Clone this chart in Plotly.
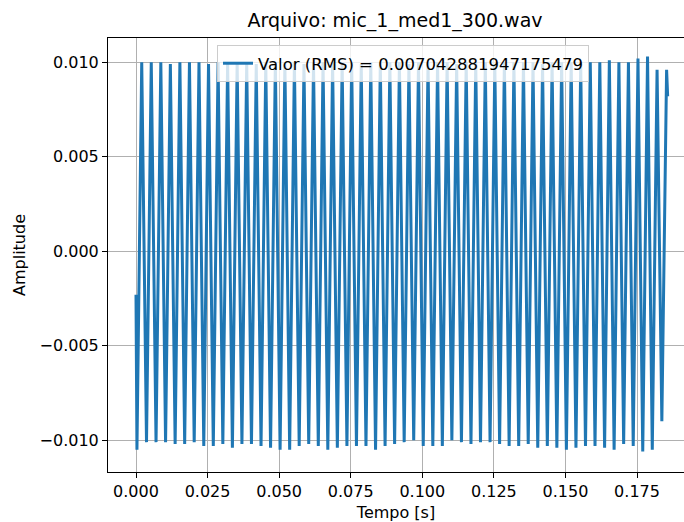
import plotly.graph_objects as go

# ---- data ----
start_t, start_v = 0.0, -0.0023
end_t, end_v = 0.1857, 0.0082

trough_t = [0.00033, 0.00367, 0.00700, 0.01033, 0.01367, 0.01700, 0.02033, 0.02367, 0.02700,
            0.03033, 0.03367, 0.03700, 0.04033, 0.04367, 0.04700, 0.05033, 0.05367, 0.05700,
            0.06033, 0.06367, 0.06700, 0.07033, 0.07367, 0.07700, 0.08033, 0.08367, 0.08700,
            0.09033, 0.09367, 0.09700, 0.10033, 0.10367, 0.10700, 0.11033, 0.11367, 0.11700,
            0.12033, 0.12367, 0.12700, 0.13033, 0.13367, 0.13700, 0.14033, 0.14367, 0.14700,
            0.15033, 0.15367, 0.15700, 0.16033, 0.16367, 0.16700, 0.17033, 0.17367, 0.17700,
            0.18033, 0.18367]
trough_v = [-0.0105, -0.0101, -0.0101, -0.0101, -0.0102, -0.0102, -0.0101, -0.0103, -0.0103, -0.0102,
            -0.0104, -0.0102, -0.0102, -0.0103, -0.0104, -0.0105, -0.0105, -0.0103, -0.0102, -0.0103,
            -0.0105, -0.0104, -0.0103, -0.0103, -0.0103, -0.0105, -0.0103, -0.0102, -0.0101, -0.0100,
            -0.0103, -0.0103, -0.0103, -0.0100, -0.0101, -0.0102, -0.0101, -0.0101, -0.0102, -0.0103,
            -0.0103, -0.0102, -0.0104, -0.0103, -0.0104, -0.0105, -0.0104, -0.0103, -0.0103, -0.0104,
            -0.0105, -0.0102, -0.0103, -0.0106, -0.0105, -0.0090]

peak_t = [0.00200, 0.00533, 0.00867, 0.01200, 0.01533, 0.01867, 0.02200, 0.02533, 0.02867,
          0.03200, 0.03533, 0.03867, 0.04200, 0.04533, 0.04867, 0.05200, 0.05533, 0.05867,
          0.06200, 0.06533, 0.06867, 0.07200, 0.07533, 0.07867, 0.08200, 0.08533, 0.08867,
          0.09200, 0.09533, 0.09867, 0.10200, 0.10533, 0.10867, 0.11200, 0.11533, 0.11867,
          0.12200, 0.12533, 0.12867, 0.13200, 0.13533, 0.13867, 0.14200, 0.14533, 0.14867,
          0.15200, 0.15533, 0.15867, 0.16200, 0.16533, 0.16867, 0.17200, 0.17533, 0.17867,
          0.18200, 0.18533]
peak_v = [0.0100, 0.0100, 0.0100, 0.0099, 0.0100, 0.0100, 0.0100, 0.0099, 0.0100, 0.0100,
          0.0100, 0.0100, 0.0099, 0.0100, 0.0100, 0.0100, 0.0100, 0.0099, 0.0100, 0.0100,
          0.0100, 0.0100, 0.0100, 0.0099, 0.0100, 0.0100, 0.0100, 0.0100, 0.0099, 0.0100,
          0.0100, 0.0100, 0.0100, 0.0099, 0.0100, 0.0100, 0.0100, 0.0099, 0.0100, 0.0100,
          0.0100, 0.0100, 0.0099, 0.0100, 0.0100, 0.0100, 0.0099, 0.0100, 0.0100, 0.0101,
          0.0100, 0.0100, 0.0102, 0.0103, 0.0096, 0.0096]

x_ticks = [0.000, 0.025, 0.050, 0.075, 0.100, 0.125, 0.150, 0.175]
x_ticklabels = ["0.000", "0.025", "0.050", "0.075", "0.100", "0.125", "0.150", "0.175"]
y_ticks = [-0.010, -0.005, 0.000, 0.005, 0.010]
y_ticklabels = ["\u22120.010", "\u22120.005", "0.000", "0.005", "0.010"]

title_text = "Arquivo: mic_1_med1_300.wav"
legend_text = "Valor (RMS) = 0.007042881947175479"
x_label = "Tempo [s]"
y_label = "Amplitude"

# ---- assemble the waveform (start, alternating troughs/peaks, end) ----
pts = [(start_t, start_v)]
for i in range(len(trough_t)):
    pts.append((trough_t[i], trough_v[i]))
    pts.append((peak_t[i], peak_v[i]))
pts.append((end_t, end_v))
xs = [p[0] for p in pts]
ys = [p[1] for p in pts]

FONT = "DejaVu Sans"
FS = 16

fig = go.Figure()
fig.add_trace(go.Scatter(x=xs, y=ys, mode="lines", name=legend_text,
                         line=dict(color="#1f77b4", width=3)))

fig.update_layout(
    width=684, height=522,
    margin=dict(l=108, r=0, t=38, b=50),
    paper_bgcolor="white", plot_bgcolor="white",
    font=dict(family=FONT, size=FS, color="black"),
    title=dict(text=title_text, x=395 / 684, xref="container", xanchor="center",
               y=1 - 20 / 522, yref="container", yanchor="middle",
               font=dict(family=FONT, size=19, color="black")),
    showlegend=True,
    legend=dict(x=(217 - 108) / 576, y=1 - (45 - 38) / 434, xanchor="left", yanchor="top",
                bgcolor="rgba(255,255,255,0.8)", bordercolor="#cccccc", borderwidth=1,
                font=dict(family=FONT, size=16.5, color="black"), itemwidth=30),
)

fig.update_xaxes(
    range=[(108 - 136) / 2863, (684 - 136) / 2863],
    tickvals=x_ticks, ticktext=x_ticklabels,
    ticks="outside", ticklen=5, tickwidth=1, tickcolor="black",
    showline=True, linecolor="black", linewidth=1, mirror=True,
    showgrid=True, gridcolor="#b0b0b0", gridwidth=1, zeroline=False,
    title=dict(text=x_label, standoff=8, font=dict(family=FONT, size=FS, color="black")),
    tickfont=dict(family=FONT, size=FS, color="black"),
)
fig.update_yaxes(
    range=[-0.01168, 0.01128],
    tickvals=y_ticks, ticktext=y_ticklabels,
    ticks="outside", ticklen=5, tickwidth=1, tickcolor="black",
    showline=True, linecolor="black", linewidth=1, mirror=False,
    showgrid=True, gridcolor="#b0b0b0", gridwidth=1, zeroline=False,
    title=dict(text=y_label, standoff=9, font=dict(family=FONT, size=FS, color="black")),
    tickfont=dict(family=FONT, size=FS, color="black"),
)

fig.write_html("out.html")
